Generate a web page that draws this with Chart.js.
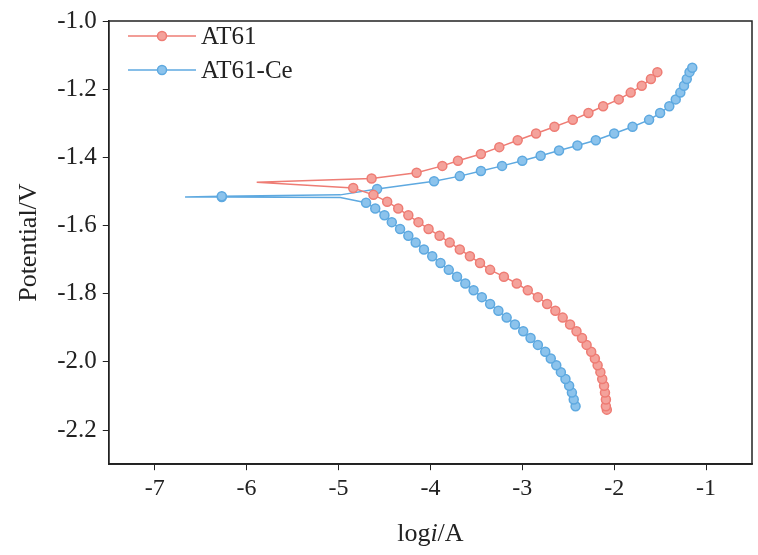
<!DOCTYPE html>
<html><head><meta charset="utf-8">
<script src="https://cdn.jsdelivr.net/npm/chart.js@4/dist/chart.umd.min.js"></script>
<style>body{margin:0;background:#fff}#wrap{width:758px;height:555px}</style>
</head><body><div id="wrap"><canvas id="grafico"></canvas></div>
<script>
// series: [log i, potential]; indices listed in *Spike are the thin spike (no marker)
var at61X = [-2.08,-2.09,-2.09,-2.10,-2.11,-2.13,-2.15,-2.18,-2.21,-2.25,-2.30,-2.35,-2.41,-2.48,-2.56,-2.64,-2.73,-2.83,-2.94,-3.06,-3.20,-3.35,-3.46,-3.57,-3.68,-3.79,-3.90,-4.02,-4.13,-4.24,-4.35,-4.47,-4.62,-4.84,
  -5.89,
  -4.64,-4.15,-3.87,-3.70,-3.45,-3.25,-3.05,-2.85,-2.65,-2.45,-2.28,-2.12,-1.95,-1.82,-1.70,-1.60,-1.53];
var at61Y = [-2.14,-2.13,-2.11,-2.09,-2.07,-2.05,-2.03,-2.01,-1.99,-1.97,-1.95,-1.93,-1.91,-1.89,-1.87,-1.85,-1.83,-1.81,-1.79,-1.77,-1.75,-1.73,-1.71,-1.69,-1.67,-1.65,-1.63,-1.61,-1.59,-1.57,-1.55,-1.53,-1.51,-1.49,
  -1.473,
  -1.462,-1.445,-1.425,-1.410,-1.39,-1.37,-1.35,-1.33,-1.31,-1.29,-1.27,-1.25,-1.23,-1.21,-1.19,-1.17,-1.15];
var at61Spike = [34];

var ceX = [-2.42,-2.44,-2.46,-2.49,-2.53,-2.58,-2.63,-2.69,-2.75,-2.83,-2.91,-2.99,-3.08,-3.17,-3.26,-3.35,-3.44,-3.53,-3.62,-3.71,-3.80,-3.89,-3.98,-4.07,-4.16,-4.24,-4.33,-4.42,-4.50,-4.60,-4.70,
  -4.98,-6.27,-6.67,-6.27,-4.98,
  -4.58,-3.96,-3.68,-3.45,-3.22,-3.00,-2.80,-2.60,-2.40,-2.20,-2.00,-1.80,-1.62,-1.50,-1.40,-1.33,-1.28,-1.24,-1.21,-1.18,-1.15];
var ceY = [-2.13,-2.11,-2.09,-2.07,-2.05,-2.03,-2.01,-1.99,-1.97,-1.95,-1.93,-1.91,-1.89,-1.87,-1.85,-1.83,-1.81,-1.79,-1.77,-1.75,-1.73,-1.71,-1.69,-1.67,-1.65,-1.63,-1.61,-1.59,-1.57,-1.55,-1.533,
  -1.518,-1.516,-1.516,-1.514,-1.510,
  -1.493,-1.47,-1.455,-1.44,-1.425,-1.41,-1.395,-1.38,-1.365,-1.35,-1.33,-1.31,-1.29,-1.27,-1.25,-1.23,-1.21,-1.19,-1.17,-1.15,-1.137];
var ceSpike = [31,33,35];

var xTicks = [-7,-6,-5,-4,-3,-2,-1];
var yTicks = [-1.0,-1.2,-1.4,-1.6,-1.8,-2.0,-2.2];

var red = '#ee7c74', redFill = '#f4a29b';
var blue = '#5ea9e0', blueFill = '#8cc3ec';
var FONT = '"Liberation Serif", "DejaVu Serif", serif';

function pts(xs, ys) { return xs.map(function (x, i) { return {x: x, y: ys[i]}; }); }
function radii(n, skip) { var r = []; for (var i = 0; i < n; i++) r.push(skip.indexOf(i) >= 0 ? 0 : 4.5); return r; }

// legend inside plot + x title with italic i
var extras = {
  id: 'extras',
  afterDraw: function (c) {
    var g = c.ctx;
    g.save();
    var items = [['AT61', red, redFill], ['AT61-Ce', blue, blueFill]];
    items.forEach(function (it, k) {
      var y = 36 + k * 34;
      g.strokeStyle = it[1]; g.lineWidth = 1.5;
      g.beginPath(); g.moveTo(128, y); g.lineTo(196, y); g.stroke();
      g.fillStyle = it[2]; g.beginPath(); g.arc(162, y, 4.5, 0, Math.PI * 2); g.fill();
      g.strokeStyle = it[1]; g.stroke();
      g.fillStyle = '#222'; g.font = '25px ' + FONT; g.textBaseline = 'middle';
      g.fillText(it[0], 201, y + 1);
    });
    g.textBaseline = 'alphabetic';
    var a = 'log', b = 'i', d = '/A';
    g.font = '26px ' + FONT; var wa = g.measureText(a).width, wd = g.measureText(d).width;
    g.font = 'italic 26px ' + FONT; var wb = g.measureText(b).width;
    var x0 = (c.chartArea.left + c.chartArea.right) / 2 - (wa + wb + wd) / 2, y0 = 541;
    g.font = '26px ' + FONT; g.fillText(a, x0, y0);
    g.font = 'italic 26px ' + FONT; g.fillText(b, x0 + wa, y0);
    g.font = '26px ' + FONT; g.fillText(d, x0 + wa + wb, y0);
    g.restore();
  }
};

var ctx = document.querySelector('#grafico').getContext('2d');
new Chart(ctx, {
  type: 'line',
  data: {
    datasets: [
      { label: 'AT61', data: pts(at61X, at61Y), borderColor: red, backgroundColor: redFill,
        pointBorderColor: red, pointRadius: radii(at61X.length, at61Spike), borderWidth: 1.5, tension: 0 },
      { label: 'AT61-Ce', data: pts(ceX, ceY), borderColor: blue, backgroundColor: blueFill,
        pointBorderColor: blue, pointRadius: radii(ceX.length, ceSpike), borderWidth: 1.5, tension: 0 }
    ]
  },
  options: {
    responsive: true, maintainAspectRatio: false, animation: false,
    layout: { padding: { left: 10, right: 4, top: 4, bottom: 48 } },
    plugins: { legend: { display: false }, tooltip: { enabled: false } },
    scales: {
      x: {
        type: 'linear', min: -7.5, max: -0.5,
        afterBuildTicks: function (s) { s.ticks = xTicks.map(function (v) { return {value: v}; }); },
        ticks: { color: '#222', font: { family: FONT, size: 24 }, padding: 4 },
        grid: { drawOnChartArea: false, tickLength: 6, color: '#222' },
        border: { color: '#222', width: 1.5 }
      },
      y: {
        type: 'linear', min: -2.3, max: -1.0,
        afterBuildTicks: function (s) { s.ticks = yTicks.map(function (v) { return {value: v}; }); },
        ticks: { color: '#222', font: { family: FONT, size: 25 }, padding: 6,
          callback: function (v) { return v.toFixed(1); } },
        grid: { drawOnChartArea: false, tickLength: 6, color: '#222' },
        border: { color: '#222', width: 1.5 },
        title: { display: true, text: 'Potential/V', color: '#222', font: { family: FONT, size: 26 }, padding: { bottom: 6 } }
      }
    }
  },
  plugins: [extras, {
    id: 'frame',
    afterDraw: function (c) {
      var a = c.chartArea, g = c.ctx;
      g.save(); g.strokeStyle = '#222'; g.lineWidth = 1.5;
      g.strokeRect(a.left, a.top, a.right - a.left, a.bottom - a.top); g.restore();
    }
  }]
});
</script>
</body></html>
